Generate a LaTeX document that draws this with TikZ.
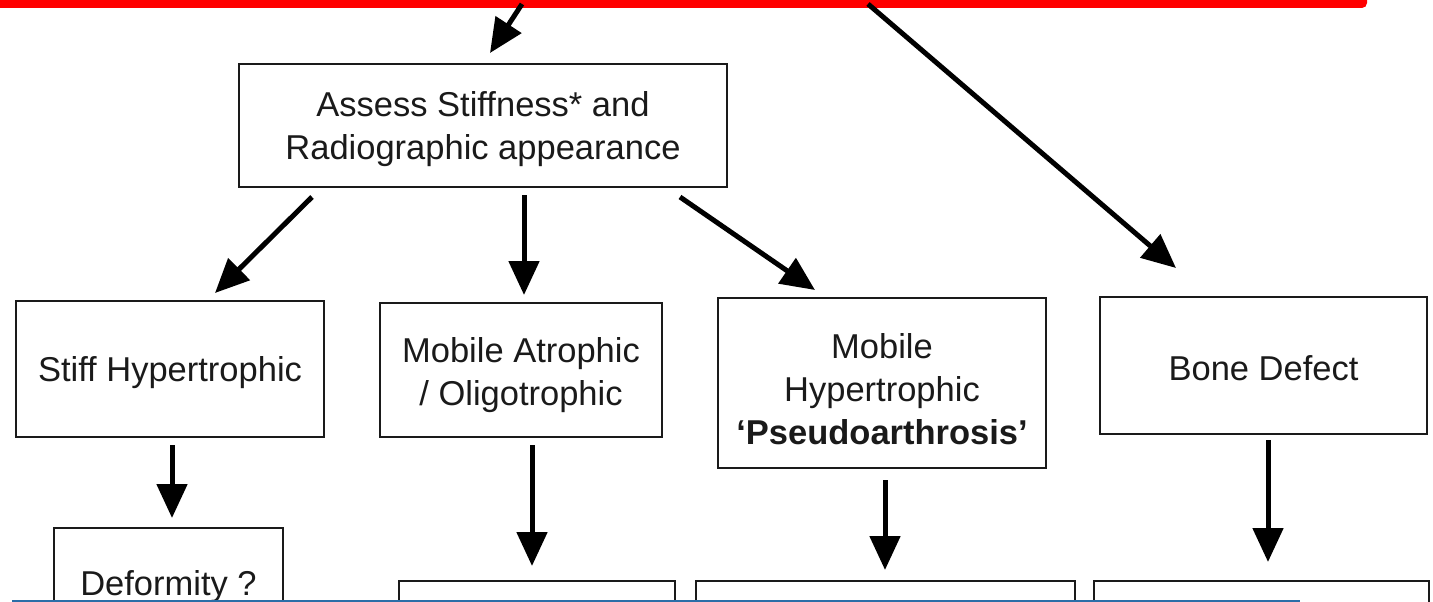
\documentclass[tikz,border=0pt]{standalone}
\usepackage{fontspec}
\setmainfont{Liberation Sans}
\usetikzlibrary{arrows.meta,calc}
\definecolor{ink}{HTML}{1A1A1A}
\definecolor{barred}{HTML}{FF0000}
\definecolor{lineblue}{HTML}{2A6EA8}
\tikzset{
  box/.style={draw=ink, line width=2.8pt, rectangle, inner sep=0pt, outer sep=0pt},
  lab/.style={align=center, text=ink, inner sep=0pt, font=\fontsize{34.5}{43}\selectfont},
  arr/.style={draw=black, line width=5pt, -{Triangle[length=34pt,width=30pt]}}
}
\begin{document}
\begin{tikzpicture}[x=1pt,y=-1pt]
\useasboundingbox (0,0) rectangle (1433,602);
\clip (0,0) rectangle (1433,602);
% red bar
\node[fill=barred, rounded corners=5pt, inner sep=0pt, minimum width=1387pt, minimum height=20pt] (bar) at (673.5,-2) {};
% boxes
\node[box, minimum width=488pt, minimum height=123pt,
  label={[lab,yshift=-3.5pt]center:{Assess Stiffness* and\\Radiographic appearance}}] (assess) at (483,125.5) {};
\node[box, minimum width=308pt, minimum height=136pt,
  label={[lab,yshift=-3.5pt]center:{Stiff Hypertrophic}}] (stiff) at (170,369) {};
\node[box, minimum width=282pt, minimum height=134pt,
  label={[lab,yshift=-5pt]center:{Mobile Atrophic\\/ Oligotrophic}}] (matro) at (521,370) {};
\node[box, minimum width=328pt, minimum height=170pt,
  label={[lab,yshift=-6pt]center:{Mobile\\Hypertrophic\\\textbf{‘Pseudoarthrosis’}}}] (mhyper) at (882,383) {};
\node[box, minimum width=327pt, minimum height=137pt,
  label={[lab,yshift=-2.5pt]center:{Bone Defect}}] (bone) at (1263.5,365.5) {};
\node[box, minimum width=229pt, minimum height=112pt,
  label={[lab,yshift=-3pt]center:{Deformity ?}}] (deform) at (168.5,584) {};
\node[box, minimum width=276pt, minimum height=100pt] (b1) at (537,631) {};
\node[box, minimum width=379pt, minimum height=100pt] (b2) at (885.5,631) {};
\node[box, minimum width=335pt, minimum height=100pt] (b3) at (1261.5,631) {};
% free ends at the bar
\coordinate (c1) at (522,4);
\coordinate (c2) at (868,4);
% connectors
\draw[arr] (c1) -- ([xshift=7pt,yshift=11pt]assess.north);
\draw[arr] (c2) -- ([xshift=-87.5pt,yshift=29pt]bone.north);
\draw[arr] ([xshift=73pt,yshift=-10pt]assess.south west) -- ([xshift=199pt,yshift=8pt]stiff.north west);
\draw[arr] ([xshift=41pt,yshift=-8pt]assess.south) -- ([xshift=3pt,yshift=8pt]matro.north);
\draw[arr] ([xshift=-47pt,yshift=-10pt]assess.south east) -- ([xshift=-67pt,yshift=8pt]mhyper.north);
\draw[arr] ([xshift=2pt,yshift=-8pt]stiff.south) -- ([xshift=3.5pt,yshift=10pt]deform.north);
\draw[arr] ([xshift=11pt,yshift=-8pt]matro.south) -- ([xshift=-5pt,yshift=15pt]b1.north);
\draw[arr] ([xshift=3pt,yshift=-12pt]mhyper.south) -- ([xshift=-0.5pt,yshift=11pt]b2.north);
\draw[arr] ([xshift=4.5pt,yshift=-6pt]bone.south) -- ([xshift=6.5pt,yshift=19pt]b3.north);
% blue line at bottom
\draw[lineblue, line width=2.5pt] (12,600.8) -- (1300,600.8);
\end{tikzpicture}
\end{document}
